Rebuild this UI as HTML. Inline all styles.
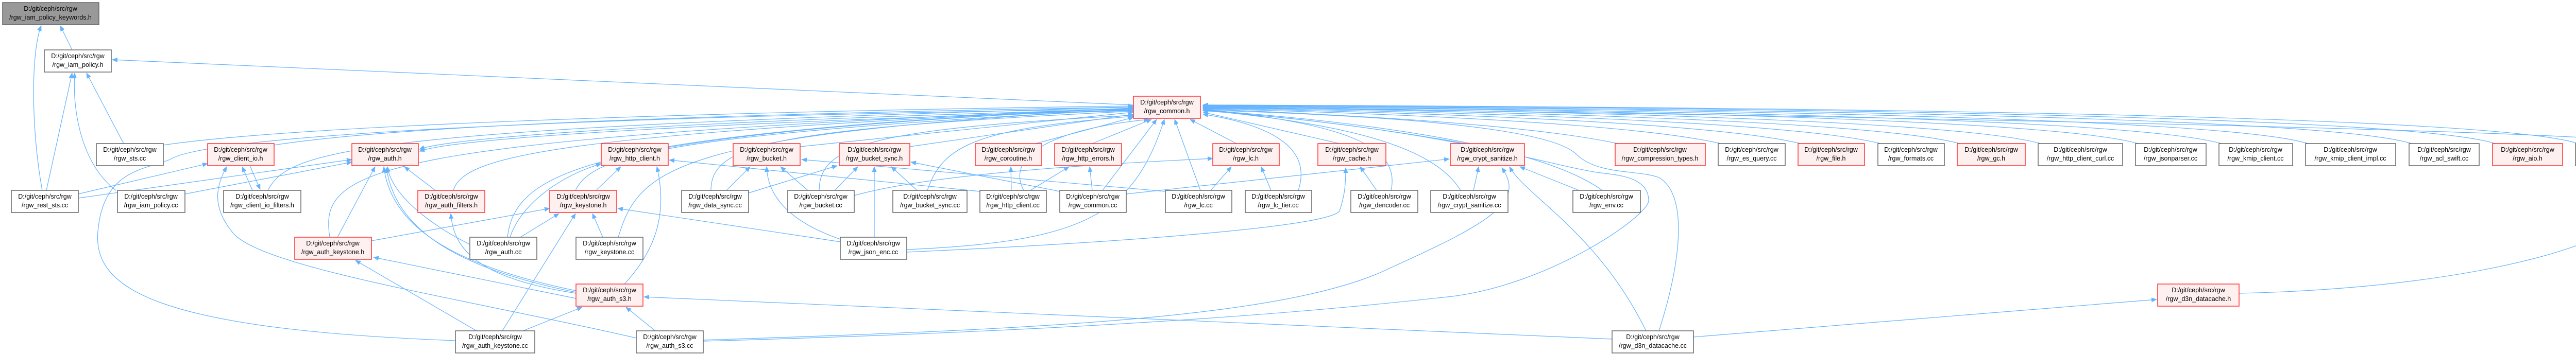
<!DOCTYPE html>
<html><head><meta charset="utf-8"><style>
html,body{margin:0;padding:0;background:#fff;width:5143px;height:688px;overflow:hidden}
svg{display:block}
text{font-family:"Liberation Sans",sans-serif;font-size:12.5px;fill:#000;text-anchor:middle}
.w{fill:#fff;stroke:#666;stroke-width:1.5}
.r{fill:#fff0f0;stroke:#f33;stroke-width:1.5}
.g{fill:#999;stroke:#666;stroke-width:1.5}
path.e{fill:none;stroke:#63b3ff;stroke-width:1.2}
</style></head><body>
<svg width="5143" height="688" viewBox="0 0 5143 688" xmlns="http://www.w3.org/2000/svg">
<defs><marker id="a" markerWidth="11" markerHeight="9" refX="10" refY="4.5" orient="auto" markerUnits="userSpaceOnUse"><path d="M0,0 L11,4.5 L0,9 Z" fill="#63b3ff"/></marker></defs>
<g marker-end="url(#a)">
<path class="e" d="M140,97 L117,50"/>
<path class="e" d="M82,370 C60,250 60,100 80,50"/>
<path class="e" d="M90,370 L140,142"/>
<path class="e" d="M225,370 C160,320 140,220 145,142"/>
<path class="e" d="M240,279 L168,142"/>
<path class="e" d="M2200,204 L218,116"/>
<path class="e" d="M152,377 L403,318"/>
<path class="e" d="M152,385 L683,310"/>
<path class="e" d="M359,377 L683,315"/>
<path class="e" d="M490,370 L470,324"/>
<path class="e" d="M485,322 L505,368"/>
<path class="e" d="M845,370 L785,324"/>
<path class="e" d="M655,461 L728,324"/>
<path class="e" d="M912,475 C840,440 760,380 752,324"/>
<path class="e" d="M1118,565 C900,520 760,450 745,324"/>
<path class="e" d="M1118,568 C905,525 768,455 750,326"/>
<path class="e" d="M721,468 L1067,405"/>
<path class="e" d="M1010,461 L1085,415"/>
<path class="e" d="M1170,461 L1150,415"/>
<path class="e" d="M975,643 L1117,415"/>
<path class="e" d="M1157,370 L1205,324"/>
<path class="e" d="M990,461 C1010,400 1080,345 1167,318"/>
<path class="e" d="M1212,552 C1260,500 1300,430 1275,324"/>
<path class="e" d="M1118,580 L725,500"/>
<path class="e" d="M925,643 L690,506"/>
<path class="e" d="M1015,643 L1130,597"/>
<path class="e" d="M1272,643 L1215,597"/>
<path class="e" d="M1118,570 C920,540 880,480 875,415"/>
<path class="e" d="M1235,657 C900,580 500,520 450,450 C410,400 420,360 440,324"/>
<path class="e" d="M884,662 C300,640 180,560 190,450 C200,330 280,330 330,310 C420,250 1500,220 2200,212"/>
<path class="e" d="M1631,470 L1199,405"/>
<path class="e" d="M1902,372 L1299,311"/>
<path class="e" d="M2262,372 L1556,310"/>
<path class="e" d="M2057,372 L1768,315"/>
<path class="e" d="M1658,380 C1800,340 2100,320 2354,308"/>
<path class="e" d="M1410,370 L1456,324"/>
<path class="e" d="M1453,375 L1625,322"/>
<path class="e" d="M1568,370 L1515,324"/>
<path class="e" d="M1620,370 L1665,324"/>
<path class="e" d="M1631,465 C1530,430 1490,380 1488,324"/>
<path class="e" d="M1697,461 L1697,324"/>
<path class="e" d="M1780,370 L1730,324"/>
<path class="e" d="M1963,370 L1962,324"/>
<path class="e" d="M2000,370 L2075,324"/>
<path class="e" d="M2120,370 L2115,324"/>
<path class="e" d="M2350,370 L2390,324"/>
<path class="e" d="M2467,370 L2448,324"/>
<path class="e" d="M2186,377 L2813,309"/>
<path class="e" d="M2672,370 L2640,324"/>
<path class="e" d="M1760,490 C2200,470 2580,440 2600,410 C2610,380 2612,360 2612,326"/>
<path class="e" d="M2860,370 L2870,324"/>
<path class="e" d="M3065,370 L2950,324"/>
<path class="e" d="M3195,643 C3100,450 2960,380 2930,324"/>
<path class="e" d="M1365,661 C2000,640 2500,620 2700,520 C2900,430 2960,390 2915,326"/>
<path class="e" d="M1365,663 C2200,640 2600,600 2800,578 C3000,560 3200,420 3200,390 C3200,340 3130,340 3100,335 C3000,320 2800,250 2335,215"/>
<path class="e" d="M3220,643 C3260,520 3280,380 3220,345 C3180,330 3100,340 3060,300 C3000,240 2600,222 2335,214"/>
<path class="e" d="M3287,655 L4186,582"/>
<path class="e" d="M4346,570 C4800,560 5140,470 5140,370 C5140,320 5130,290 5110,276 C5000,250 3000,215 2335,209"/>
<path class="e" d="M3129,659 L1250,577"/>
<path class="e" d="M3110,370 C3000,290 2700,240 2335,214"/>
<path class="e" d="M2835,370 C2780,280 2600,240 2335,214"/>
<path class="e" d="M2700,370 C2720,280 2600,240 2335,212"/>
<path class="e" d="M3140,279 Q2935,235 2335,212"/>
<path class="e" d="M3340,279 Q3135,232 2335,211"/>
<path class="e" d="M3495,279 Q3290,230 2335,210"/>
<path class="e" d="M3650,279 Q3445,228 2335,209"/>
<path class="e" d="M3804,279 Q3600,226 2335,208"/>
<path class="e" d="M3961,279 Q3760,224 2335,207"/>
<path class="e" d="M4150,279 Q3950,222 2335,206"/>
<path class="e" d="M4312,279 Q4100,220 2335,206"/>
<path class="e" d="M4480,279 Q4280,218 2335,205"/>
<path class="e" d="M4681,279 Q4480,216 2335,205"/>
<path class="e" d="M4843,279 Q4640,214 2335,204"/>
<path class="e" d="M5004,279 Q4800,212 2335,204"/>
<path class="e" d="M2600,279 L2335,218"/>
<path class="e" d="M2845,279 Q2600,235 2335,215"/>
<path class="e" d="M2520,370 C2550,280 2450,240 2335,222"/>
<path class="e" d="M2400,279 L2310,232"/>
<path class="e" d="M2330,370 L2280,232"/>
<path class="e" d="M2140,370 L2245,232"/>
<path class="e" d="M1987,370 C1950,300 2050,250 2230,232"/>
<path class="e" d="M2120,279 L2235,232"/>
<path class="e" d="M2010,279 L2200,228"/>
<path class="e" d="M1800,370 C1830,280 1900,250 2200,226"/>
<path class="e" d="M1590,370 C1590,280 1700,250 2200,224"/>
<path class="e" d="M1766,285 L2200,222"/>
<path class="e" d="M1553,285 L2200,218"/>
<path class="e" d="M1380,370 C1380,280 1500,250 2200,216"/>
<path class="e" d="M1760,485 C2100,470 2200,420 2260,232"/>
<path class="e" d="M1297,285 C1500,250 1900,220 2200,214"/>
<path class="e" d="M1200,461 C1240,330 1300,260 2200,212"/>
<path class="e" d="M1117,370 C1150,300 1300,260 2200,212"/>
<path class="e" d="M985,461 C1000,330 1150,260 2200,210"/>
<path class="e" d="M880,370 C900,300 1100,260 2200,210"/>
<path class="e" d="M2200,212 C1500,230 900,260 814,290"/>
<path class="e" d="M2200,215 C1500,234 900,264 814,294"/>
<path class="e" d="M640,461 C620,330 700,270 2200,210"/>
<path class="e" d="M520,370 C560,290 700,250 2200,208"/>
<path class="e" d="M532,282 C800,240 1500,220 2200,208"/>
<path class="e" d="M317,282 C600,240 1500,215 2200,206"/>
</g>
<g>
<rect class="g" x="5" y="5" width="187" height="43"/><text x="98" y="21">D:/git/ceph/src/rgw</text><text x="98" y="38">/rgw_iam_policy_keywords.h</text>
<rect class="w" x="86" y="97" width="130" height="43"/><text x="151" y="113">D:/git/ceph/src/rgw</text><text x="151" y="130">/rgw_iam_policy.h</text>
<rect class="r" x="2200" y="187" width="130" height="43"/><text x="2265" y="203">D:/git/ceph/src/rgw</text><text x="2265" y="220">/rgw_common.h</text>

<rect class="w" x="187" y="279" width="130" height="43"/><text x="252" y="295">D:/git/ceph/src/rgw</text><text x="252" y="312">/rgw_sts.cc</text>
<rect class="r" x="403" y="279" width="129" height="43"/><text x="467" y="295">D:/git/ceph/src/rgw</text><text x="467" y="312">/rgw_client_io.h</text>
<rect class="r" x="683" y="279" width="129" height="43"/><text x="747" y="295">D:/git/ceph/src/rgw</text><text x="747" y="312">/rgw_auth.h</text>
<rect class="r" x="1167" y="279" width="130" height="43"/><text x="1232" y="295">D:/git/ceph/src/rgw</text><text x="1232" y="312">/rgw_http_client.h</text>
<rect class="r" x="1423" y="279" width="130" height="43"/><text x="1488" y="295">D:/git/ceph/src/rgw</text><text x="1488" y="312">/rgw_bucket.h</text>
<rect class="r" x="1629" y="279" width="137" height="43"/><text x="1697" y="295">D:/git/ceph/src/rgw</text><text x="1697" y="312">/rgw_bucket_sync.h</text>
<rect class="r" x="1893" y="279" width="129" height="43"/><text x="1957" y="295">D:/git/ceph/src/rgw</text><text x="1957" y="312">/rgw_coroutine.h</text>
<rect class="r" x="2047" y="279" width="130" height="43"/><text x="2112" y="295">D:/git/ceph/src/rgw</text><text x="2112" y="312">/rgw_http_errors.h</text>
<rect class="r" x="2354" y="279" width="129" height="43"/><text x="2418" y="295">D:/git/ceph/src/rgw</text><text x="2418" y="312">/rgw_lc.h</text>
<rect class="r" x="2558" y="279" width="132" height="43"/><text x="2624" y="295">D:/git/ceph/src/rgw</text><text x="2624" y="312">/rgw_cache.h</text>
<rect class="r" x="2815" y="279" width="144" height="43"/><text x="2887" y="295">D:/git/ceph/src/rgw</text><text x="2887" y="312">/rgw_crypt_sanitize.h</text>
<rect class="r" x="3135" y="279" width="175" height="43"/><text x="3222" y="295">D:/git/ceph/src/rgw</text><text x="3222" y="312">/rgw_compression_types.h</text>
<rect class="w" x="3335" y="279" width="130" height="43"/><text x="3400" y="295">D:/git/ceph/src/rgw</text><text x="3400" y="312">/rgw_es_query.cc</text>
<rect class="r" x="3490" y="279" width="129" height="43"/><text x="3554" y="295">D:/git/ceph/src/rgw</text><text x="3554" y="312">/rgw_file.h</text>
<rect class="w" x="3645" y="279" width="129" height="43"/><text x="3709" y="295">D:/git/ceph/src/rgw</text><text x="3709" y="312">/rgw_formats.cc</text>
<rect class="r" x="3799" y="279" width="132" height="43"/><text x="3865" y="295">D:/git/ceph/src/rgw</text><text x="3865" y="312">/rgw_gc.h</text>
<rect class="w" x="3956" y="279" width="164" height="43"/><text x="4038" y="295">D:/git/ceph/src/rgw</text><text x="4038" y="312">/rgw_http_client_curl.cc</text>
<rect class="w" x="4145" y="279" width="137" height="43"/><text x="4213" y="295">D:/git/ceph/src/rgw</text><text x="4213" y="312">/rgw_jsonparser.cc</text>
<rect class="w" x="4307" y="279" width="143" height="43"/><text x="4378" y="295">D:/git/ceph/src/rgw</text><text x="4378" y="312">/rgw_kmip_client.cc</text>
<rect class="w" x="4475" y="279" width="175" height="43"/><text x="4562" y="295">D:/git/ceph/src/rgw</text><text x="4562" y="312">/rgw_kmip_client_impl.cc</text>
<rect class="w" x="4676" y="279" width="136" height="43"/><text x="4744" y="295">D:/git/ceph/src/rgw</text><text x="4744" y="312">/rgw_acl_swift.cc</text>
<rect class="r" x="4838" y="279" width="136" height="43"/><text x="4906" y="295">D:/git/ceph/src/rgw</text><text x="4906" y="312">/rgw_aio.h</text>
<rect class="w" x="4999" y="279" width="136" height="43"/><text x="5067" y="295">D:/git/ceph/src/rgw</text><text x="5067" y="312">/rgw_arn.cc</text>

<rect class="w" x="22" y="370" width="130" height="43"/><text x="87" y="386">D:/git/ceph/src/rgw</text><text x="87" y="403">/rgw_rest_sts.cc</text>
<rect class="w" x="228" y="370" width="131" height="43"/><text x="293" y="386">D:/git/ceph/src/rgw</text><text x="293" y="403">/rgw_iam_policy.cc</text>
<rect class="w" x="434" y="370" width="150" height="43"/><text x="509" y="386">D:/git/ceph/src/rgw</text><text x="509" y="403">/rgw_client_io_filters.h</text>
<rect class="r" x="811" y="370" width="130" height="43"/><text x="876" y="386">D:/git/ceph/src/rgw</text><text x="876" y="403">/rgw_auth_filters.h</text>
<rect class="r" x="1067" y="370" width="130" height="43"/><text x="1132" y="386">D:/git/ceph/src/rgw</text><text x="1132" y="403">/rgw_keystone.h</text>
<rect class="w" x="1323" y="370" width="130" height="43"/><text x="1388" y="386">D:/git/ceph/src/rgw</text><text x="1388" y="403">/rgw_data_sync.cc</text>
<rect class="w" x="1529" y="370" width="129" height="43"/><text x="1593" y="386">D:/git/ceph/src/rgw</text><text x="1593" y="403">/rgw_bucket.cc</text>
<rect class="w" x="1733" y="370" width="144" height="43"/><text x="1805" y="386">D:/git/ceph/src/rgw</text><text x="1805" y="403">/rgw_bucket_sync.cc</text>
<rect class="w" x="1902" y="370" width="129" height="43"/><text x="1966" y="386">D:/git/ceph/src/rgw</text><text x="1966" y="403">/rgw_http_client.cc</text>
<rect class="w" x="2057" y="370" width="129" height="43"/><text x="2121" y="386">D:/git/ceph/src/rgw</text><text x="2121" y="403">/rgw_common.cc</text>
<rect class="w" x="2262" y="370" width="129" height="43"/><text x="2326" y="386">D:/git/ceph/src/rgw</text><text x="2326" y="403">/rgw_lc.cc</text>
<rect class="w" x="2417" y="370" width="129" height="43"/><text x="2481" y="386">D:/git/ceph/src/rgw</text><text x="2481" y="403">/rgw_lc_tier.cc</text>
<rect class="w" x="2622" y="370" width="130" height="43"/><text x="2687" y="386">D:/git/ceph/src/rgw</text><text x="2687" y="403">/rgw_dencoder.cc</text>
<rect class="w" x="2777" y="370" width="150" height="43"/><text x="2852" y="386">D:/git/ceph/src/rgw</text><text x="2852" y="403">/rgw_crypt_sanitize.cc</text>
<rect class="w" x="3053" y="370" width="131" height="43"/><text x="3118" y="386">D:/git/ceph/src/rgw</text><text x="3118" y="403">/rgw_env.cc</text>

<rect class="r" x="572" y="461" width="149" height="43"/><text x="646" y="477">D:/git/ceph/src/rgw</text><text x="646" y="494">/rgw_auth_keystone.h</text>
<rect class="w" x="912" y="461" width="130" height="43"/><text x="977" y="477">D:/git/ceph/src/rgw</text><text x="977" y="494">/rgw_auth.cc</text>
<rect class="w" x="1118" y="461" width="130" height="43"/><text x="1183" y="477">D:/git/ceph/src/rgw</text><text x="1183" y="494">/rgw_keystone.cc</text>
<rect class="w" x="1631" y="461" width="129" height="43"/><text x="1695" y="477">D:/git/ceph/src/rgw</text><text x="1695" y="494">/rgw_json_enc.cc</text>

<rect class="r" x="1118" y="552" width="130" height="43"/><text x="1183" y="568">D:/git/ceph/src/rgw</text><text x="1183" y="585">/rgw_auth_s3.h</text>
<rect class="r" x="4188" y="552" width="158" height="43"/><text x="4267" y="568">D:/git/ceph/src/rgw</text><text x="4267" y="585">/rgw_d3n_datacache.h</text>

<rect class="w" x="884" y="643" width="154" height="43"/><text x="961" y="659">D:/git/ceph/src/rgw</text><text x="961" y="676">/rgw_auth_keystone.cc</text>
<rect class="w" x="1235" y="643" width="130" height="43"/><text x="1300" y="659">D:/git/ceph/src/rgw</text><text x="1300" y="676">/rgw_auth_s3.cc</text>
<rect class="w" x="3129" y="643" width="158" height="43"/><text x="3208" y="659">D:/git/ceph/src/rgw</text><text x="3208" y="676">/rgw_d3n_datacache.cc</text>
</g>
</svg>
</body></html>
